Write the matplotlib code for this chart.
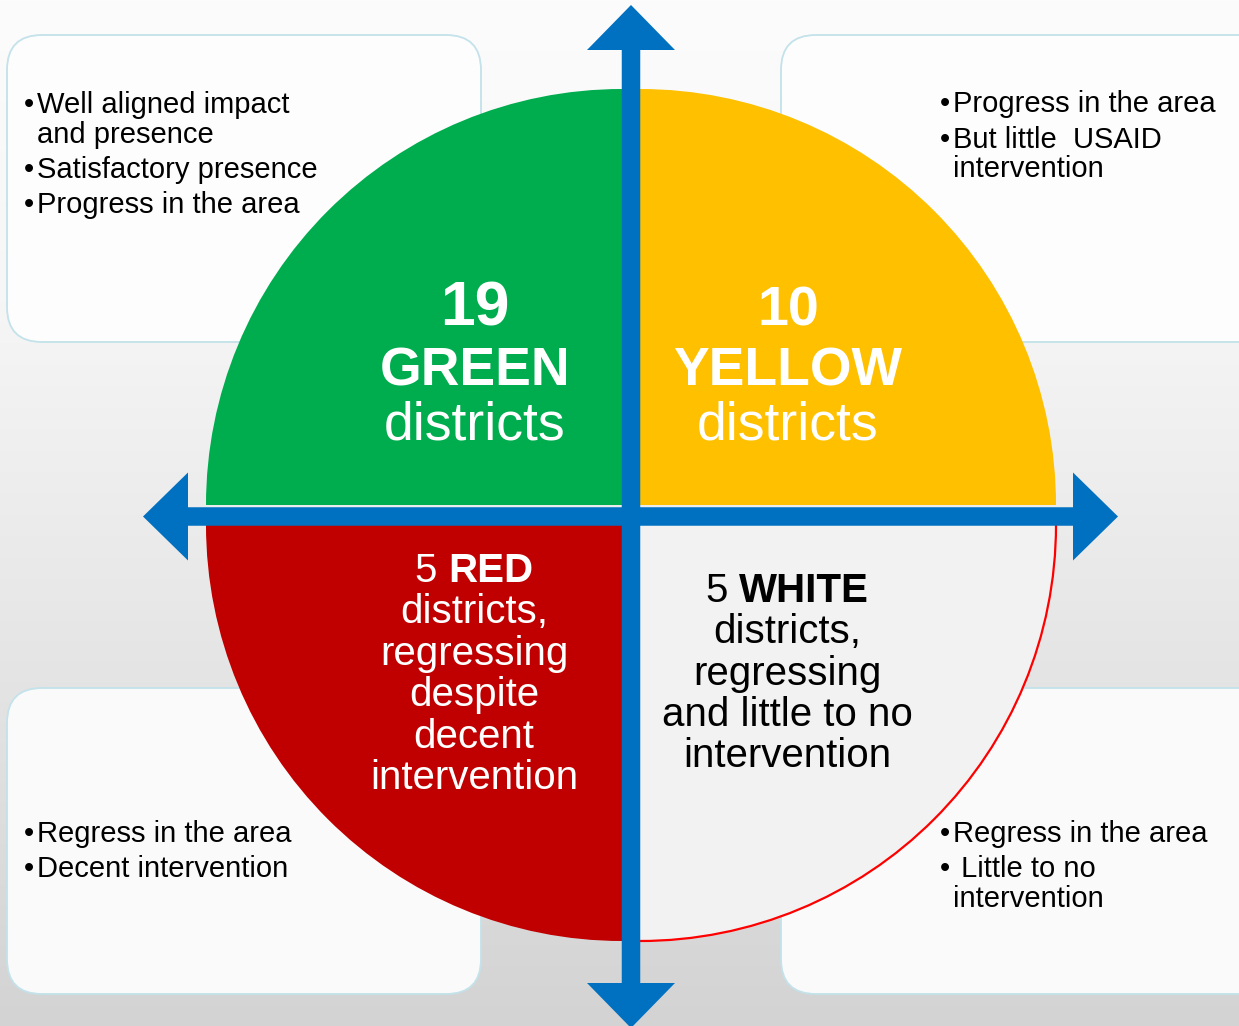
import numpy as np
import matplotlib.pyplot as plt
from matplotlib.patches import Wedge, Arc, FancyBboxPatch, FancyArrow

plt.rcParams['font.family'] = ['Liberation Sans', 'DejaVu Sans']

# district counts per quadrant
counts = [19, 10, 5, 5]
categories = ['GREEN', 'YELLOW', 'RED', 'WHITE']
red_desc = ['districts,', 'regressing', 'despite', 'decent', 'intervention']
white_desc = ['districts,', 'regressing', 'and little to no', 'intervention']

# corner notes: list of (bullet?, text) lines
notes_tl = [(True, 'Well aligned impact'), (False, 'and presence'),
            (True, 'Satisfactory presence'), (True, 'Progress in the area')]
notes_tr = [(True, 'Progress in the area'), (True, 'But little  USAID'),
            (False, 'intervention')]
notes_bl = [(True, 'Regress in the area'), (True, 'Decent intervention')]
notes_br = [(True, 'Regress in the area'), (True, ' Little to no'),
            (False, 'intervention')]

W, H = 1239, 1026
fig = plt.figure(figsize=(W / 100, H / 100), dpi=100)
ax = fig.add_axes([0, 0, 1, 1])
ax.set_xlim(0, W)
ax.set_ylim(H, 0)
ax.axis('off')

# background gradient
yy = np.arange(H)
lev = np.interp(yy, [0, 300, 600, 1026], [252, 246, 232, 211]) / 255
grad = np.repeat(lev[:, None], 2, axis=1)
ax.imshow(np.dstack([grad, grad, grad]), extent=[0, W, H, 0], aspect='auto', zorder=0)

# rounded note boxes
boxes = [(7, 35, 481, 342), (781, 35, 1290, 342), (7, 688, 481, 994), (781, 688, 1290, 994)]
fills = ['#fdfdfd', '#fdfdfd', '#fafafa', '#fafafa']
for (x0, y0, x1, y1), fc in zip(boxes, fills):
    ax.add_patch(FancyBboxPatch((x0, y0), x1 - x0, y1 - y0,
                                boxstyle='round,pad=0,rounding_size=35',
                                fc=fc, ec='#c3e2ea', lw=1.3, zorder=1))

# quadrants
r = 416
ax.add_patch(Wedge((622, 505), r, 180, 270, fc='#00ad4e', ec='none', zorder=2))
ax.add_patch(Wedge((640, 505), r, 270, 360, fc='#ffc000', ec='none', zorder=2))
ax.add_patch(Wedge((622, 525), r, 90, 180, fc='#c00000', ec='none', zorder=2))
ax.add_patch(Wedge((640, 525), r, 0, 90, fc='#f2f2f2', ec='none', zorder=2))
ax.add_patch(Arc((640, 525), 2 * r, 2 * r, theta1=0, theta2=90, color='#ff0000', lw=1.6, zorder=3))

# blue cross arrows
blue = '#0070c0'
cx, cy = 631, 516.5
kw = dict(width=18.5, head_width=88, head_length=45, length_includes_head=True,
          fc=blue, ec='none', zorder=4)
ax.add_patch(FancyArrow(cx, cy, 0, 5 - cy, **kw))
ax.add_patch(FancyArrow(cx, cy, 0, 1028 - cy, **kw))
ax.add_patch(FancyArrow(cx, cy, 143 - cx, 0, **kw))
ax.add_patch(FancyArrow(cx, cy, 1118 - cx, 0, **kw))

# top quadrant labels
ax.text(475, 326, str(counts[0]), fontsize=45, fontweight='bold', color='white', ha='center', va='baseline', zorder=5)
ax.text(475, 385, categories[0], fontsize=38.5, fontweight='bold', color='white', ha='center', va='baseline', zorder=5)
ax.text(475, 440, 'districts', fontsize=38.5, color='white', ha='center', va='baseline', zorder=5)
ax.text(788, 326, str(counts[1]), fontsize=40, fontweight='bold', color='white', ha='center', va='baseline', zorder=5)
ax.text(788, 385, categories[1], fontsize=38.5, fontweight='bold', color='white', ha='center', va='baseline', zorder=5)
ax.text(788, 440, 'districts', fontsize=38.5, color='white', ha='center', va='baseline', zorder=5)

renderer = fig.canvas.get_renderer()


def mixed_line(x, y, num, word, size, color):
    t1 = ax.text(0, y, num, fontsize=size, color=color, va='baseline', ha='left', zorder=5)
    t2 = ax.text(0, y, word, fontsize=size, fontweight='bold', color=color, va='baseline', ha='left', zorder=5)
    w1 = t1.get_window_extent(renderer=renderer).width
    w2 = t2.get_window_extent(renderer=renderer).width
    gap = size * 100 / 72 * 0.278
    left = x - (w1 + gap + w2) / 2
    t1.set_x(left)
    t2.set_x(left + w1 + gap)


# bottom quadrant labels
mixed_line(474, 582, str(counts[2]), categories[2], 29, 'white')
for i, s in enumerate(red_desc):
    ax.text(474, 582 + 41.4 * (i + 1), s, fontsize=29, color='white', ha='center', va='baseline', zorder=5)
mixed_line(787, 602, str(counts[3]), categories[3], 29, 'black')
for i, s in enumerate(white_desc):
    ax.text(787, 602 + 41.3 * (i + 1), s, fontsize=29, color='black', ha='center', va='baseline', zorder=5)


def notes(lines, bx, tx, ys):
    for (bul, s), y in zip(lines, ys):
        if bul:
            ax.text(bx, y, '\u2022', fontsize=21, color='black', ha='left', va='baseline', zorder=5)
        ax.text(tx, y, s, fontsize=21, color='black', ha='left', va='baseline', zorder=5)


notes(notes_tl, 24, 37, [113, 143, 178, 213])
notes(notes_tr, 940, 953, [112, 148, 177])
notes(notes_bl, 24, 37, [842, 877])
notes(notes_br, 940, 953, [842, 877, 907])

fig.savefig('out.png', dpi=100)
